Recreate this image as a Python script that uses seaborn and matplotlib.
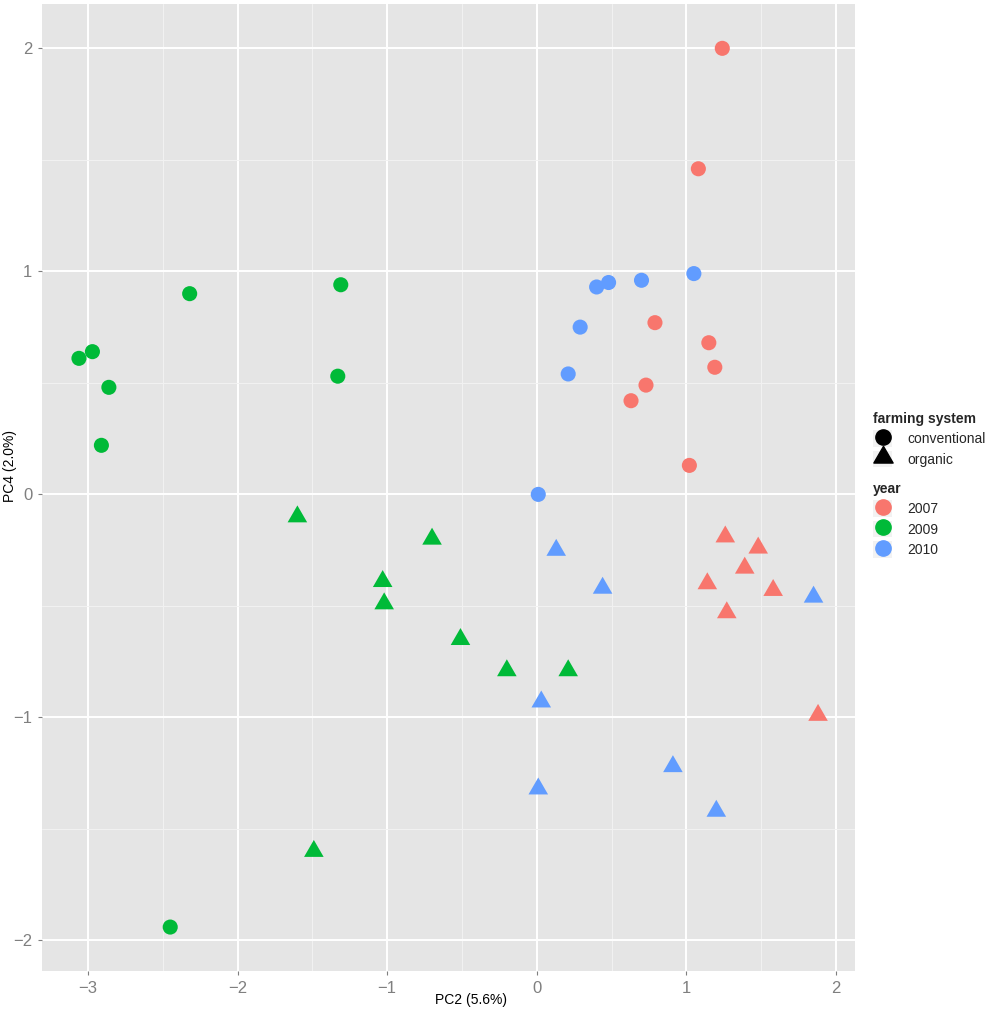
import numpy as np
import pandas as pd
import matplotlib.pyplot as plt
import matplotlib.patches as mpatches
import seaborn as sns
from matplotlib.lines import Line2D
from matplotlib.legend_handler import HandlerTuple
from matplotlib.ticker import MultipleLocator

# -----------------------------
# DATA
# -----------------------------
years = ["2007", "2009", "2010"]
systems = ["conventional", "organic"]
palette = ["#F8766D", "#00BA38", "#619CFF"]

# conventional farms (circles)
conv_2007_pc2 = [1.24, 1.08, 0.79, 1.15, 1.19, 0.73, 0.63, 1.02]
conv_2007_pc4 = [2.00, 1.46, 0.77, 0.68, 0.57, 0.49, 0.42, 0.13]
conv_2009_pc2 = [-3.06, -2.97, -2.86, -2.91, -2.32, -1.31, -1.33, -2.45]
conv_2009_pc4 = [0.61, 0.64, 0.48, 0.22, 0.90, 0.94, 0.53, -1.94]
conv_2010_pc2 = [1.05, 0.70, 0.48, 0.40, 0.29, 0.21, 0.01]
conv_2010_pc4 = [0.99, 0.96, 0.95, 0.93, 0.75, 0.54, 0.00]

# organic farms (triangles)
org_2007_pc2 = [1.26, 1.48, 1.39, 1.14, 1.58, 1.27, 1.88]
org_2007_pc4 = [-0.19, -0.24, -0.33, -0.40, -0.43, -0.53, -0.99]
org_2009_pc2 = [-1.60, -0.70, -1.03, -1.02, -0.51, -0.20, 0.21, -1.49]
org_2009_pc4 = [-0.10, -0.20, -0.39, -0.49, -0.65, -0.79, -0.79, -1.60]
org_2010_pc2 = [0.13, 0.44, 0.03, 0.01, 0.91, 1.20, 1.85]
org_2010_pc4 = [-0.25, -0.42, -0.93, -1.32, -1.22, -1.42, -0.46]

groups = [
    ("conventional", "2007", conv_2007_pc2, conv_2007_pc4),
    ("conventional", "2009", conv_2009_pc2, conv_2009_pc4),
    ("conventional", "2010", conv_2010_pc2, conv_2010_pc4),
    ("organic", "2007", org_2007_pc2, org_2007_pc4),
    ("organic", "2009", org_2009_pc2, org_2009_pc4),
    ("organic", "2010", org_2010_pc2, org_2010_pc4),
]
rows = []
for system, year, xs, ys in groups:
    for x, y in zip(xs, ys):
        rows.append({"PC2": x, "PC4": y, "year": year, "farming system": system})
df = pd.DataFrame(rows)

# -----------------------------
# STYLE (ggplot2 theme_grey look)
# -----------------------------
sns.set_style("darkgrid", rc={
    "axes.facecolor": "#E5E5E5",
    "grid.color": "white",
    "axes.edgecolor": "none",
})
plt.rcParams["font.family"] = ["Liberation Sans", "DejaVu Sans"]

# R style triangle: centroid at the data point
tri = [(0, 1), (-0.866, -0.5), (0.866, -0.5), (0, 1)]
markers = {"conventional": "o", "organic": tri}
sizes = {"conventional": 118, "organic": 265}

fig = plt.figure(figsize=(9.92, 10.11), dpi=100)
ax = fig.add_axes([42 / 992, 1 - 971 / 1011, 813 / 992, 966.6 / 1011])

for system in systems:
    sns.scatterplot(
        data=df[df["farming system"] == system], x="PC2", y="PC4",
        hue="year", hue_order=years, palette=palette,
        marker=markers[system], s=sizes[system],
        linewidth=0, edgecolor="none", legend=False, ax=ax,
    )

# ggplot-like 5% expansion
def expand(v):
    lo, hi = np.min(v), np.max(v)
    pad = 0.05 * (hi - lo)
    return lo - pad, hi + pad

ax.set_xlim(*expand(df["PC2"]))
ax.set_ylim(*expand(df["PC4"]))

ax.xaxis.set_major_locator(MultipleLocator(1))
ax.yaxis.set_major_locator(MultipleLocator(1))
ax.xaxis.set_minor_locator(MultipleLocator(0.5))
ax.yaxis.set_minor_locator(MultipleLocator(0.5))
ax.grid(which="major", color="white", linewidth=1.4)
ax.grid(which="minor", color="#F2F2F2", linewidth=0.7)
ax.set_axisbelow(True)
ax.tick_params(which="major", length=3, width=0.8, color="#7F7F7F",
               labelcolor="#7F7F7F", labelsize=12, pad=4)
ax.tick_params(which="minor", length=0)
ax.tick_params(axis="x", bottom=True)
ax.tick_params(axis="y", left=True)

ax.set_xlabel("PC2 (5.6%)", fontsize=10, color="black")
ax.set_ylabel("PC4 (2.0%)", fontsize=10, color="black")
ax.xaxis.set_label_coords(0.528, -0.030)
ax.yaxis.set_label_coords(-0.039, 0.522)
ax.xaxis.label.set_va("center")
ax.yaxis.label.set_va("center")

# -----------------------------
# LEGENDS
# -----------------------------
leg_kw = dict(loc="upper left", frameon=False, fontsize=10, borderpad=0,
              handlelength=1.4, handleheight=1.45, handletextpad=1.1,
              labelspacing=0.3,
              handler_map={tuple: HandlerTuple(ndivide=1)},
              title_fontproperties={"weight": "bold", "size": 10})

def key(marker, color, size):
    box = mpatches.Patch(facecolor="#F2F2F2", edgecolor="none")
    mark = Line2D([], [], marker=marker, linestyle="", color=color,
                  markersize=size)
    return (box, mark)

shape_handles = [key("o", "black", 11), key(tri, "black", 16)]
leg1 = fig.legend(shape_handles, systems, title="farming system",
                  bbox_to_anchor=(866 / 992, 1 - 405 / 1011), **leg_kw)
leg1._legend_box.align = "left"

year_handles = [key("o", c, 11) for c in palette]
leg2 = fig.legend(year_handles, years, title="year",
                  bbox_to_anchor=(866 / 992, 1 - 475 / 1011), **leg_kw)
leg2._legend_box.align = "left"

plt.savefig("out.png", dpi=100)
